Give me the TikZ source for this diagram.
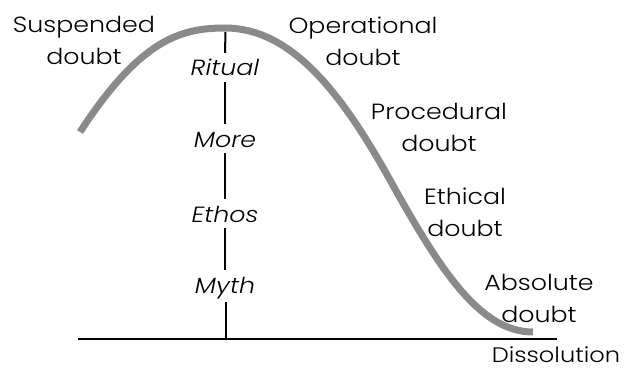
\documentclass[tikz,border=0pt]{standalone}
\usepackage{fontspec}
\setmainfont{Poppins}[UprightFont=* Light, ItalicFont=* Light Italic, FakeStretch=1.15]
\begin{document}
\begin{tikzpicture}[x=1pt,y=-1pt,
  lbl/.style={font=\fontsize{22}{32}\selectfont, align=center, inner sep=0pt},
  ax/.style={font=\fontsize{22}{26}\selectfont\itshape, inner sep=0pt, text height=15pt, text depth=0pt},
  axline/.style={line width=2pt, black},
  curve/.style={line width=7pt, color={rgb,255:red,138;green,138;blue,138}}]
\useasboundingbox (0,0) rectangle (624,369);
% axis
\coordinate (bl) at (78,339);
\coordinate (br) at (557,339);
\coordinate (vt) at (225.5,32);
\coordinate (vm) at (225.5,302);
\coordinate (vb) at (225.5,339);
\draw[axline] (bl) -- (br);
\node[ax] (ritual) at (225,68.5) {Ritual};
\node[ax] (more) at (225,139.5) {More};
\node[ax] (ethos) at (225,214.5) {Ethos};
\node[ax] (myth) at (225,285.5) {Myth};
\draw[axline] (vt) -- ([yshift=8pt]ritual.north);
\draw[axline] ([yshift=-6pt]ritual.south) -- ([yshift=8pt]more.north);
\draw[axline] ([yshift=-6pt]more.south) -- ([yshift=8pt]ethos.north);
\draw[axline] ([yshift=-6pt]ethos.south) -- ([yshift=8pt]myth.north);
\draw[axline] (vm) -- (vb);
% curve
\coordinate (c0) at (80,132);
\coordinate (c1) at (225,28);
\coordinate (c2) at (390,180);
\coordinate (c3) at (533,332);
\draw[curve] (c0) .. controls (140,40) and (180,28) .. (c1)
  .. controls (290,28) and (340,90) .. (c2)
  .. controls (440,270) and (480,332) .. (c3);
% labels
\node[lbl] (susp) at (84,40) {Suspended\\doubt};
\node[lbl] (oper) at (363,41) {Operational\\doubt};
\node[lbl] (proc) at (439,127) {Procedural\\doubt};
\node[lbl] (eth) at (465,212) {Ethical\\doubt};
\node[lbl] (abs) at (539,298) {Absolute\\doubt};
\node[lbl, font=\fontsize{21}{25}\selectfont] (diss) at (556,355) {Dissolution};
\end{tikzpicture}
\end{document}
